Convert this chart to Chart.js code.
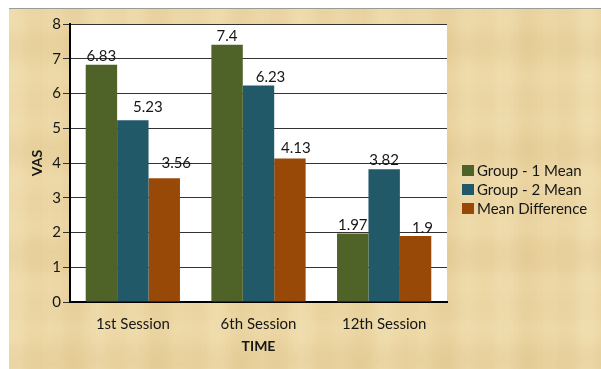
<!DOCTYPE html>
<html>
<head>
<meta charset="utf-8">
<script src="https://cdn.jsdelivr.net/npm/chart.js@4/dist/chart.umd.min.js"></script>
<style>
  html, body { margin: 0; padding: 0; background: #ffffff; }
  canvas { display: block; }
</style>
</head>
<body>
<canvas id="chart" width="601" height="369"></canvas>
<script>
// VAS scores per session
const categories = ['1st Session', '6th Session', '12th Session'];
const group1Mean = [6.83, 7.4, 1.97];
const group2Mean = [5.23, 6.23, 3.82];
const meanDifference = [3.56, 4.13, 1.9];
const seriesNames = ['Group - 1 Mean', 'Group - 2 Mean', 'Mean Difference'];
const yMin = 0, yMax = 8, yStep = 1;

const colors = ['#4F6228', '#215968', '#984807'];
const FONT = 'Lato, "Open Sans", sans-serif';
const TEXT = '#161616';

// hand-placed label nudges [dx, dy] per series / category
const labelNudge = [
  [[0, 0], [0, 0], [0, 0]],
  [[15, -4], [12, 0], [0, 0]],
  [[12, -6], [6, -1], [7, 1]]
];

// parchment backdrop, white plot area
const backdrop = {
  id: 'backdrop',
  beforeDraw(chart) {
    const ctx = chart.ctx, W = chart.width, H = chart.height;
    const x0 = 9, y0 = 8;
    ctx.save();
    ctx.fillStyle = '#ffffff';
    ctx.fillRect(0, 0, W, H);
    ctx.fillStyle = '#EBD5A2';
    ctx.fillRect(x0, y0, W - x0, H - y0);
    // woven fibres: soft vertical and horizontal bands
    for (let x = x0; x < W; x += 3) {
      const v = Math.sin(x * 0.11) * Math.sin(x * 0.043 + 1.3);
      ctx.fillStyle = v > 0 ? `rgba(248,234,194,${0.3 * v})` : `rgba(205,172,110,${-0.12 * v})`;
      ctx.fillRect(x, y0, 3, H - y0);
    }
    for (let y = y0; y < H; y += 3) {
      const v = Math.sin(y * 0.09 + 0.7) * Math.sin(y * 0.031);
      ctx.fillStyle = v > 0 ? `rgba(248,234,194,${0.25 * v})` : `rgba(205,172,110,${-0.1 * v})`;
      ctx.fillRect(x0, y, W - x0, 3);
    }
    ctx.fillStyle = '#9a9a9a';
    ctx.fillRect(x0, y0, W - x0, 1);
    const a = chart.chartArea;
    ctx.fillStyle = '#ffffff';
    ctx.fillRect(a.left, a.top, a.right - a.left, a.bottom - a.top);
    ctx.restore();
  }
};

// value labels above each bar
const valueLabels = {
  id: 'valueLabels',
  afterDatasetsDraw(chart) {
    const ctx = chart.ctx;
    ctx.save();
    ctx.font = '15px ' + FONT;
    ctx.fillStyle = TEXT;
    ctx.textAlign = 'center';
    ctx.textBaseline = 'alphabetic';
    chart.data.datasets.forEach((ds, i) => {
      chart.getDatasetMeta(i).data.forEach((bar, j) => {
        const [dx, dy] = labelNudge[i][j];
        ctx.fillText(String(ds.data[j]), bar.x + dx, bar.y - 4 + dy);
      });
    });
    ctx.restore();
  }
};

// legend to the right of the plot
const sideLegend = {
  id: 'sideLegend',
  afterDraw(chart) {
    const ctx = chart.ctx;
    const x = chart.chartArea.right + 15;
    let y = 171;
    ctx.save();
    ctx.font = '15px ' + FONT;
    ctx.textAlign = 'left';
    ctx.textBaseline = 'middle';
    chart.data.datasets.forEach(ds => {
      ctx.fillStyle = ds.backgroundColor;
      ctx.fillRect(x, y - 6, 12, 11);
      ctx.fillStyle = TEXT;
      ctx.fillText(ds.label, x + 15, y);
      y += 19;
    });
    ctx.restore();
  }
};

const seriesValues = [group1Mean, group2Mean, meanDifference];

new Chart(document.getElementById('chart'), {
  type: 'bar',
  data: {
    labels: categories,
    datasets: seriesValues.map((vals, i) => ({
      label: seriesNames[i],
      data: vals,
      backgroundColor: colors[i],
      borderWidth: 0,
      categoryPercentage: 0.75,
      barPercentage: 1.0
    }))
  },
  options: {
    responsive: false,
    animation: false,
    devicePixelRatio: 1,
    layout: { padding: { left: 0, right: 154, top: 24, bottom: 0 } },
    plugins: {
      legend: { display: false },
      tooltip: { enabled: false }
    },
    scales: {
      x: {
        grid: { display: false },
        border: { display: true, color: '#000000', width: 2 },
        ticks: { color: TEXT, font: { family: FONT, size: 15 }, padding: 5 },
        title: {
          display: true, text: 'TIME', color: TEXT,
          font: { family: FONT, size: 14, weight: 'bold' },
          padding: { top: 0, bottom: 14 }
        },
        afterFit(scale) { scale.height = 67; }
      },
      y: {
        min: yMin, max: yMax,
        grid: { color: '#333333', lineWidth: 1, tickLength: 7, drawTicks: true },
        border: { display: true, color: '#000000', width: 2 },
        ticks: { stepSize: yStep, color: TEXT, font: { family: FONT, size: 15 }, padding: 2 },
        title: {
          display: true, text: 'VAS', color: TEXT,
          font: { family: FONT, size: 14, weight: 'bold' },
          padding: { top: 29, bottom: 0 }
        },
        afterFit(scale) { scale.width = 70; }
      }
    }
  },
  plugins: [backdrop, valueLabels, sideLegend]
});
</script>
</body>
</html>
